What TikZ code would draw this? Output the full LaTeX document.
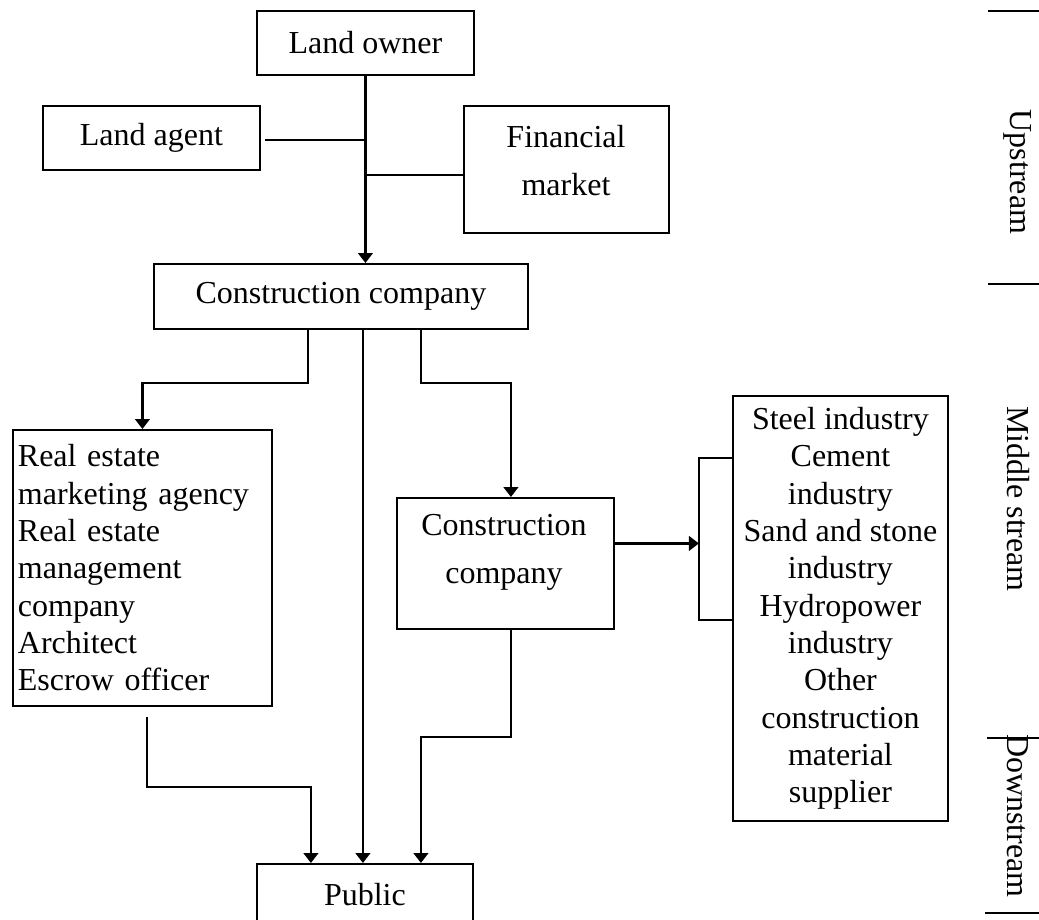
\documentclass[tikz,border=0pt]{standalone}
\usepackage{fontspec}
\setmainfont{Liberation Serif}
\usetikzlibrary{arrows.meta,calc}
\newdimen\pxu \pxu=0.75pt
\begin{document}
\begin{tikzpicture}[x=0.75pt,y=-0.75pt,
  box/.style={draw, line width=1.4pt, inner sep=0pt, anchor=north west, font=\fontsize{24}{28}\selectfont},
  lbl/.style={font=\fontsize{24}{36}\selectfont, inner sep=0pt, align=center},
  thinln/.style={line width=1.3pt},
  arr/.style={line width=1.8pt, -{Triangle[length=7.5pt,width=11pt]}},
  side/.style={font=\fontsize{24}{28}\selectfont, rotate=-90, inner sep=0pt},
  tick/.style={line width=1.4pt}]
\useasboundingbox (0,0) rectangle (1039,920);

% boxes
\node[box, minimum width=217\pxu, minimum height=64\pxu] (lo) at (256,10) {Land owner};
\node[box, minimum width=217\pxu, minimum height=64\pxu] (la) at (42,105) {Land agent};
\node[box, minimum width=205\pxu, minimum height=127\pxu] (fm) at (463,105) {};
\node[lbl] (fmt) at (566,161) {Financial\\market};
\node[box, minimum width=374\pxu, minimum height=65\pxu] (cc) at (153,263) {Construction company};
\node[box, minimum width=259\pxu, minimum height=276\pxu, align=left, text width=249\pxu, inner xsep=5\pxu] (lb) at (12,429)
  {Real estate\\marketing agency\\Real estate\\management\\company\\Architect\\Escrow officer};
\node[box, minimum width=217\pxu, minimum height=131\pxu] (cm) at (396,497) {};
\node[lbl] (cmt) at (504,552) {Construction\\company};
\node[box, minimum width=215\pxu, minimum height=425\pxu, align=center] (sup) at (732,395)
  {Steel industry\\Cement\\industry\\Sand and stone\\industry\\Hydropower\\industry\\Other\\construction\\material\\supplier};
\node[box, minimum width=216\pxu, minimum height=62\pxu] (pub) at (256,863) {Public};

% side labels
\node[side] (up) at (1018,172) {Upstream};
\node[side] (mid) at (1018,499) {Middle stream};
\node[side] (down) at (1018,816) {Downstream};
\draw[tick] (988,11) -- (1039,11);
\draw[tick] (988,284) -- (1039,284);
\draw[tick] (987,738) -- (1039,738);
\draw[tick] (985,913) -- (1039,913);

% upstream connectors
\draw[arr] (lo.south) -- (lo.south |- cc.north);
\draw[thinln] ([xshift=4\pxu,yshift=-2\pxu]la.east) -- ++(99,0);
\coordinate (fmj) at (365,175);
\draw[thinln] (fmj) -- (fmj -| fm.west);

% branches from construction company
\draw[arr] ([xshift=-33\pxu]cc.south) -- ++(0,53) -| (lb.north);
\draw[arr] ([xshift=22\pxu]cc.south) -- ([xshift=22\pxu]cc.south |- pub.north);
\draw[arr] ([xshift=80\pxu]cc.south) -- ++(0,53) -| ([xshift=5.5\pxu]cm.north);

% to suppliers
\draw[arr] ([yshift=20\pxu]cm.east) -- ++(84,0);
\draw[thinln] (sup.west) ++(0,-150.5) -- ++(-33,0) -- ++(0,162) -- ++(33,0);

% to public
\draw[arr] ([xshift=5.5\pxu]cm.south) -- ++(0,107) -| ([xshift=56\pxu]pub.north);
\draw[arr] ([xshift=4.5\pxu,yshift=-10\pxu]lb.south) -- ++(0,70) -| ([xshift=-54\pxu]pub.north);
\end{tikzpicture}
\end{document}
